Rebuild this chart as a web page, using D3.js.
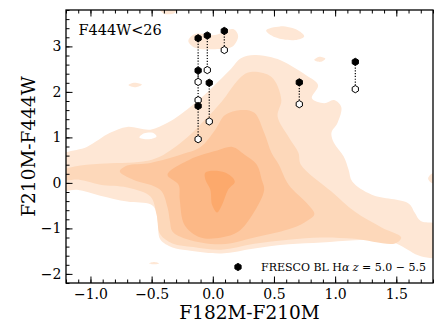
<!DOCTYPE html>
<meta charset="utf-8" />
<style>
  body { margin: 0; background: #fff; }
  text { font-family: "DejaVu Serif", serif; fill: #000; }
</style>
<body>
<div id="chart"></div>
<script src="https://d3js.org/d3.v7.min.js"></script>
<script>
// FRESCO pairs: x colour, y colour filled (black) and open (white)
var pairX = [-0.12, -0.12, -0.12, -0.045, -0.029, 0.094, 0.707, 1.165];
var fillY = [3.18, 2.47, 1.69, 3.24, 2.20, 3.34, 2.21, 2.66];
var openY = [2.22, 1.82, 0.96, 2.48, 1.35, 2.92, 1.73, 2.06];

var xTicks = [-1.0, -0.5, 0.0, 0.5, 1.0, 1.5];
var yTicks = [-2, -1, 0, 1, 2, 3];

// density contour outlines (data units), light to dark
var level1 = [[-1.25,0.58],[-1.03,0.79],[-0.84,1.10],[-0.70,1.23],[-0.51,1.17],[-0.37,1.32],[-0.27,1.49],[-0.10,1.86],[0.00,2.11],[0.14,2.48],[0.23,2.74],[0.34,2.81],[0.48,2.76],[0.58,2.66],[0.76,2.37],[0.86,2.15],[0.81,1.86],[0.91,1.75],[0.99,1.82],[1.05,1.67],[1.02,1.32],[0.97,1.10],[0.99,0.88],[1.07,0.58],[1.11,0.29],[1.14,0.03],[1.30,-0.26],[1.60,-0.45],[1.65,-0.65],[1.70,-0.84],[1.86,-0.93],[1.86,-1.61],[1.70,-1.61],[1.53,-1.37],[1.43,-1.26],[1.16,-1.26],[0.89,-1.31],[0.62,-1.35],[0.34,-1.44],[0.07,-1.55],[-0.21,-1.48],[-0.33,-1.42],[-0.43,-1.24],[-0.45,-0.85],[-0.47,-0.58],[-0.51,-0.47],[-0.70,-0.41],[-0.92,-0.28],[-1.11,-0.15],[-1.25,-0.15]];
var level1Blobs = [
  [[-0.20,3.12],[-0.145,3.27],[0.02,3.25],[0.166,3.38],[0.207,3.23],[0.158,2.99],[0.02,2.94],[-0.145,2.97]],
  [[0.436,3.35],[0.551,3.44],[0.698,3.35],[0.747,3.22],[0.673,3.14],[0.51,3.20]],
  [[-0.69,2.15],[-0.64,2.20],[-0.58,2.16],[-0.63,2.10]],
  [[-0.44,3.86],[-0.29,3.86],[-0.31,3.74],[-0.40,3.72]],
  [[0.83,2.70],[0.87,2.77],[0.92,2.73],[0.88,2.66]],
  [[1.76,0.10],[1.80,0.22],[1.86,0.20],[1.86,-0.02],[1.79,0.00]],
  [[-0.52,-1.77],[-0.48,-1.74],[-0.44,-1.77],[-0.48,-1.79]]
];
var level1Holes = [
  [[-0.60,1.00],[-0.56,1.09],[-0.49,1.10],[-0.46,1.02],[-0.52,0.96]]
];
var level2 = [[-1.25,0.25],[-1.13,0.36],[-0.92,0.42],[-0.57,0.47],[-0.43,0.58],[-0.21,1.00],[-0.06,1.40],[0.07,1.78],[0.23,2.33],[0.31,2.44],[0.48,2.33],[0.56,1.83],[0.53,1.46],[0.62,1.01],[0.70,0.66],[0.72,0.40],[0.97,-0.19],[1.16,-0.63],[1.38,-0.98],[1.54,-1.20],[1.49,-1.33],[1.16,-1.23],[0.89,-1.20],[0.62,-1.25],[0.34,-1.34],[0.07,-1.47],[-0.16,-1.41],[-0.33,-1.33],[-0.43,-1.13],[-0.46,-0.69],[-0.51,-0.30],[-0.70,-0.10],[-0.92,-0.04],[-1.09,0.07],[-1.25,0.07]];
var level3 = [[-0.76,0.25],[-0.70,0.38],[-0.51,0.44],[-0.24,0.64],[-0.10,0.79],[0.02,1.17],[0.10,1.49],[0.23,1.60],[0.34,1.54],[0.42,1.10],[0.48,0.66],[0.54,0.40],[0.62,-0.04],[0.78,-0.48],[0.83,-0.69],[0.75,-0.87],[0.62,-1.02],[0.34,-1.20],[0.07,-1.35],[-0.21,-1.24],[-0.33,-1.07],[-0.35,-0.85],[-0.37,-0.54],[-0.43,-0.15],[-0.65,0.07]];
var level4 = [[-0.37,0.18],[-0.19,0.51],[0.035,0.71],[0.16,0.79],[0.26,0.62],[0.36,0.40],[0.40,0.07],[0.42,-0.15],[0.34,-0.63],[0.21,-1.07],[0.07,-1.20],[-0.10,-1.20],[-0.23,-0.93],[-0.27,-0.37],[-0.28,-0.04]];
var level5 = [[-0.06,0.23],[0.10,0.23],[0.18,0.03],[0.125,-0.15],[0.076,-0.48],[0.035,-0.65],[-0.006,-0.48],[-0.02,-0.15],[-0.06,0.07]];

var levelColors = ["#fee7d5", "#fdd8ba", "#fdc8a0", "#fcb886", "#fca96c"];

var W = 442, H = 330;
var margin = { top: 10, right: 9, bottom: 47, left: 66 },
  width = W - margin.left - margin.right,
  height = H - margin.top - margin.bottom;

var svg = d3.select("#chart").append("svg")
  .attr("width", W).attr("height", H)
  .append("g")
  .attr("transform", "translate(" + margin.left + "," + margin.top + ")");

var x = d3.scaleLinear().domain([-1.2, 1.8]).range([0, width]);
var y = d3.scaleLinear().domain([-2.2, 3.8]).range([height, 0]);

svg.append("defs").append("clipPath").attr("id", "clip")
  .append("rect").attr("width", width).attr("height", height);

var blob = d3.line()
  .curve(d3.curveCatmullRomClosed.alpha(0.5))
  .x(function(d) { return x(d[0]); })
  .y(function(d) { return y(d[1]); });

var dens = svg.append("g").attr("clip-path", "url(#clip)");
dens.append("path").attr("d", blob(level1)).attr("fill", levelColors[0]);
level1Blobs.forEach(function(b) {
  dens.append("path").attr("d", blob(b)).attr("fill", levelColors[0]);
});
level1Holes.forEach(function(b) {
  dens.append("path").attr("d", blob(b)).attr("fill", "#fff");
});
dens.append("path").attr("d", blob(level2)).attr("fill", levelColors[1]);
dens.append("path").attr("d", blob(level3)).attr("fill", levelColors[2]);
dens.append("path").attr("d", blob(level4)).attr("fill", levelColors[3]);
dens.append("path").attr("d", blob(level5)).attr("fill", levelColors[4]);

// hexagon marker (matplotlib 'h')
function hexPath(r) {
  var pts = d3.range(6).map(function(i) {
    var a = -Math.PI / 2 + i * Math.PI / 3;
    return [r * Math.cos(a), r * Math.sin(a)];
  });
  return "M" + pts.join("L") + "Z";
}

var pts = pairX.map(function(d, i) { return { x: d, f: fillY[i], o: openY[i] }; });

svg.selectAll(".link").data(pts).enter().append("line")
  .attr("x1", function(d) { return x(d.x); })
  .attr("x2", function(d) { return x(d.x); })
  .attr("y1", function(d) { return y(d.f); })
  .attr("y2", function(d) { return y(d.o); })
  .attr("stroke", "#000").attr("stroke-width", 1.2)
  .attr("stroke-dasharray", "1.2,1.6");

svg.selectAll(".open").data(pts).enter().append("path")
  .attr("d", hexPath(3.6))
  .attr("transform", function(d) { return "translate(" + x(d.x) + "," + y(d.o) + ")"; })
  .attr("fill", "#fff").attr("stroke", "#000").attr("stroke-width", 1);

svg.selectAll(".filled").data(pts).enter().append("path")
  .attr("d", hexPath(3.6))
  .attr("transform", function(d) { return "translate(" + x(d.x) + "," + y(d.f) + ")"; })
  .attr("fill", "#000").attr("stroke", "#000").attr("stroke-width", 1);

// axes, ticks inward
function styleAxis(g) {
  g.select(".domain").remove();
  g.selectAll("line").attr("stroke", "#000").attr("stroke-width", 1);
  g.selectAll("text").style("font-size", "14px").style("font-family", "DejaVu Serif");
}
var fmtX = function(d) { return d3.format(".1f")(d).replace("-", "\u2212"); };
var fmtY = function(d) { return String(d).replace("-", "\u2212"); };
var xMinor = d3.range(-12, 19).map(function(i) { return i / 10; });
var yMinor = d3.range(-11, 20).map(function(i) { return i / 5; });

svg.append("g").attr("transform", "translate(0," + height + ")")
  .call(d3.axisBottom(x).tickValues(xMinor).tickSize(-3.5).tickFormat("")).call(styleAxis);
svg.append("g").attr("transform", "translate(0," + height + ")")
  .call(d3.axisBottom(x).tickValues(xTicks).tickSize(-6.5).tickPadding(6).tickFormat(fmtX)).call(styleAxis);
svg.append("g")
  .call(d3.axisTop(x).tickValues(xMinor).tickSize(-3.5).tickFormat("")).call(styleAxis);
svg.append("g")
  .call(d3.axisTop(x).tickValues(xTicks).tickSize(-6.5).tickFormat("")).call(styleAxis);
svg.append("g")
  .call(d3.axisLeft(y).tickValues(yMinor).tickSize(-3.5).tickFormat("")).call(styleAxis);
svg.append("g")
  .call(d3.axisLeft(y).tickValues(yTicks).tickSize(-6.5).tickPadding(4.5).tickFormat(fmtY)).call(styleAxis);

svg.append("rect").attr("width", width).attr("height", height)
  .attr("fill", "none").attr("stroke", "#000").attr("stroke-width", 1.3);

// labels
svg.append("text")
  .attr("x", width / 2).attr("y", height + 36)
  .attr("text-anchor", "middle").style("font-size", "18.5px")
  .text("F182M-F210M");
svg.append("text")
  .attr("transform", "translate(" + (-31) + "," + (height / 2) + ") rotate(-90)")
  .attr("text-anchor", "middle").style("font-size", "18.5px")
  .text("F210M-F444W");

svg.append("text")
  .attr("x", 12.5).attr("y", 25)
  .style("font-size", "14.5px")
  .text("F444W<26");

// legend
svg.append("path").attr("d", hexPath(3.6))
  .attr("transform", "translate(" + (width - 195) + "," + (height - 16) + ")")
  .attr("fill", "#000").attr("stroke", "#000");
var leg = svg.append("text")
  .attr("x", width - 172).attr("y", height - 12)
  .style("font-size", "11px");
leg.append("tspan").text("FRESCO BL H");
leg.append("tspan").style("font-style", "italic").text("\u03b1");
leg.append("tspan").text(" ");
leg.append("tspan").style("font-style", "italic").text("z");
leg.append("tspan").text(" = 5.0 \u2212 5.5");
</script>
</body>
